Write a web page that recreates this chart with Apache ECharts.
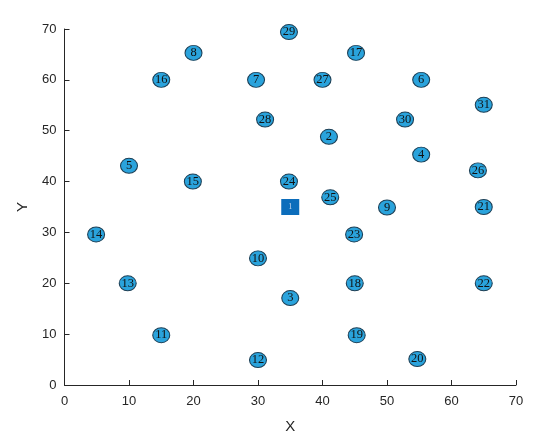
<!DOCTYPE html>
<html>
<head>
<meta charset="utf-8">
<script src="https://cdn.jsdelivr.net/npm/echarts@6/dist/echarts.min.js"></script>
<style>
html,body{margin:0;padding:0;background:#fff;}
#chart{width:554px;height:439px;}
</style>
</head>
<body>
<div id="chart"></div>
<script>
// node numbers and coordinates (node 1 is the square)
var nodeIds = [2,3,4,5,6,7,8,9,10,11,12,13,14,15,16,17,18,19,20,21,22,23,24,25,26,27,28,29,30,31];
var nodeX = [41,35,55.3,10,55.3,29.7,20,50,30,15,30,9.8,4.9,19.9,15,45.2,45,45.3,54.7,65,65,44.9,34.8,41.2,64.1,40,31.1,34.8,52.8,65];
var nodeY = [48.8,17.1,45.3,43.1,60,60,65.3,34.9,24.9,9.8,4.9,20,29.6,40,60,65.3,20,9.8,5.1,35,20,29.6,40,36.9,42.2,60,52.2,69.4,52.2,55.1];
var centerNode = {id: 1, x: 35, y: 35};
var xTicks = [0,10,20,30,40,50,60,70];
var yTicks = [0,10,20,30,40,50,60,70];

var ellipse = 'path://M0,50 A50,50 0 1 1 100,50 A50,50 0 1 1 0,50 Z';

var pts = [];
for (var i=0;i<nodeIds.length;i++){
    pts.push([nodeX[i], nodeY[i], nodeIds[i]]);
}

var axisColor = '#262626';
var chart = echarts.init(document.getElementById('chart'));
var option = {
    animation: false,
    grid: {left: 64.5, right: 38, top: 29, bottom: 53},
    xAxis: {
        type: 'value', min: 0, max: 70, interval: 10,
        name: 'X', nameLocation: 'middle', nameGap: 34,
        nameTextStyle: {color: axisColor, fontSize: 15, fontFamily: 'Liberation Sans'},
        axisLine: {show: true, onZero: false, lineStyle: {color: axisColor, width: 1}},
        axisTick: {show: true, inside: true, length: 5, lineStyle: {color: axisColor}},
        axisLabel: {color: axisColor, fontSize: 13, fontFamily: 'Liberation Sans', margin: 10,
            formatter: function(v){ return xTicks.indexOf(v) >= 0 ? v : ''; }},
        splitLine: {show: false}
    },
    yAxis: {
        type: 'value', min: 0, max: 70, interval: 10,
        name: 'Y', nameLocation: 'middle', nameGap: 34, nameRotate: 90,
        nameTextStyle: {color: axisColor, fontSize: 15, fontFamily: 'Liberation Sans'},
        axisLine: {show: true, onZero: false, lineStyle: {color: axisColor, width: 1}},
        axisTick: {show: true, inside: true, length: 5, lineStyle: {color: axisColor}},
        axisLabel: {color: axisColor, fontSize: 13, fontFamily: 'Liberation Sans', margin: 8,
            formatter: function(v){ return yTicks.indexOf(v) >= 0 ? v : ''; }},
        splitLine: {show: false}
    },
    series: [
        {
            type: 'scatter',
            data: pts,
            symbol: ellipse,
            symbolSize: [17, 15],
            itemStyle: {color: '#2aa3dc', borderColor: '#1d3f55', borderWidth: 1, opacity: 1},
            label: {
                show: true, position: 'inside',
                formatter: function(p){ return p.data[2]; },
                color: '#111', fontSize: 12.5, fontFamily: 'Liberation Serif'
            }
        },
        {
            type: 'scatter',
            data: [[centerNode.x, centerNode.y, centerNode.id]],
            symbol: 'rect',
            symbolSize: [18, 16],
            itemStyle: {color: '#0c6dbb', opacity: 1},
            label: {
                show: true, position: 'inside',
                formatter: function(p){ return p.data[2]; },
                color: '#c8d8ee', fontSize: 8, fontFamily: 'Liberation Serif'
            }
        }
    ]
};
chart.setOption(option);
window.addEventListener('resize', chart.resize);
</script>
</body>
</html>
